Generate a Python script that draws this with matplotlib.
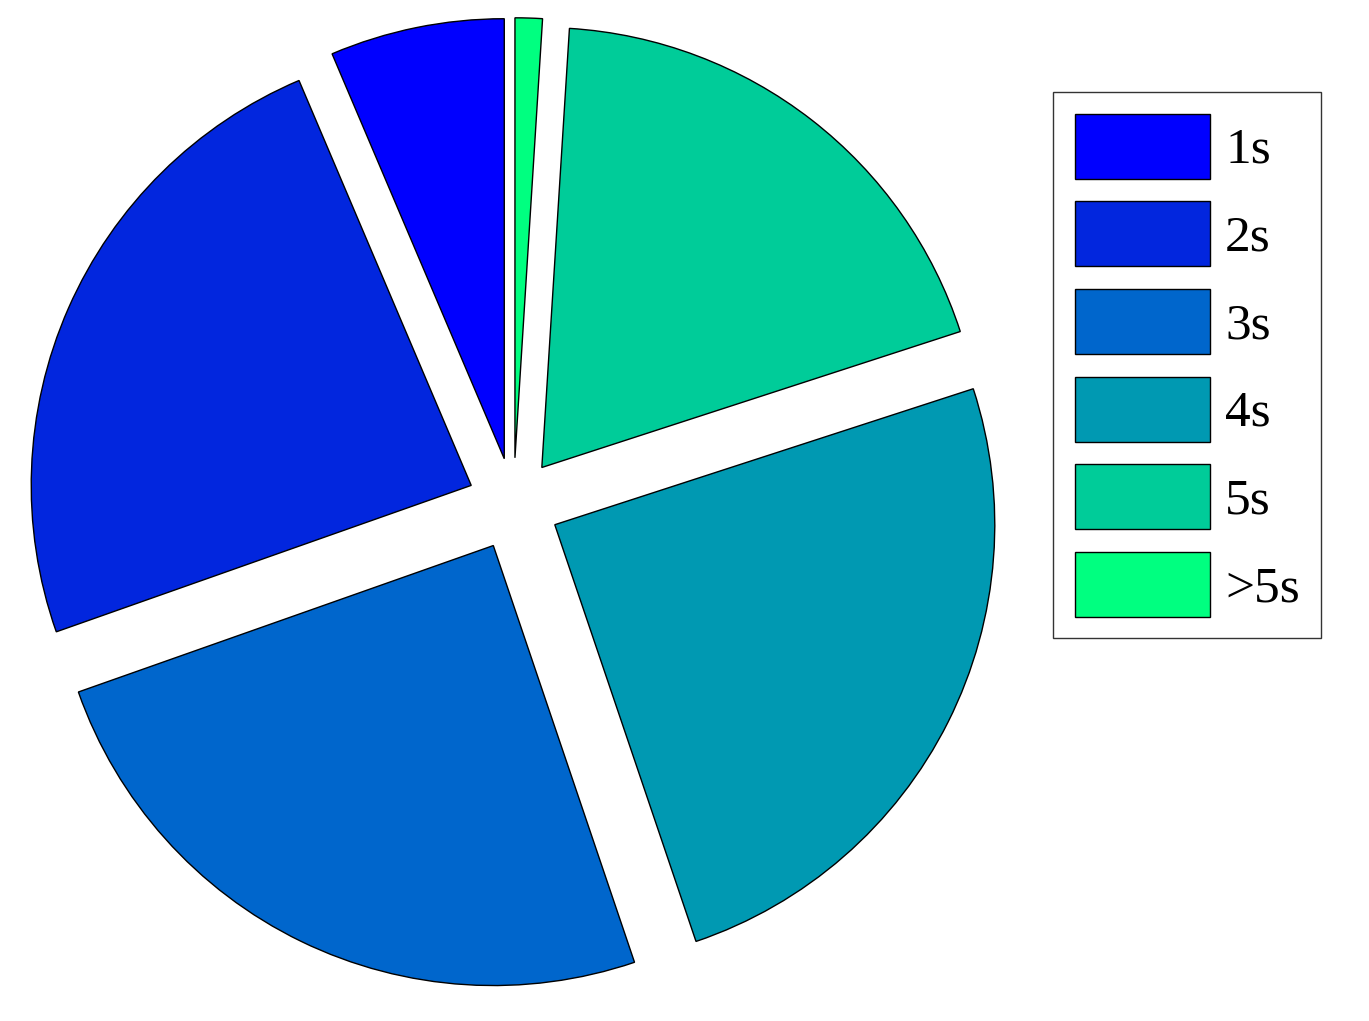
import matplotlib
matplotlib.use("Agg")
import matplotlib.pyplot as plt

# data
labels = ["1s", "2s", "3s", "4s", "5s", ">5s"]
shares = [6.4, 24.0, 24.8, 24.8, 19.0, 1.0]
colors = ["#0000FF", "#0226DE", "#0066CC", "#0099B2", "#00CC99", "#00FF80"]
explode = [0.105] * len(shares)

plt.rcParams["font.family"] = "serif"
plt.rcParams["font.serif"] = ["Liberation Serif", "Times New Roman", "DejaVu Serif"]

W, H = 1369, 1021
fig = plt.figure(figsize=(W / 100, H / 100), dpi=100)
ax = fig.add_axes([0, 0, 1, 1])

wedges, _ = ax.pie(
    shares,
    colors=colors,
    explode=explode,
    startangle=90,
    counterclock=True,
    wedgeprops=dict(edgecolor="black", linewidth=1.0),
)

# pie centre at (513.5, 504) px, radius 440 px
scale = 440.0
cx, cy = 513.5, 504.0
ax.set_aspect("auto")
ax.set_xlim(-cx / scale, (W - cx) / scale)
ax.set_ylim(-(H - cy) / scale, cy / scale)
ax.axis("off")

leg = ax.legend(
    wedges, labels,
    loc="upper left",
    bbox_to_anchor=(1053 / W, 1 - 92 / H),
    bbox_transform=fig.transFigure,
    borderaxespad=0,
    fontsize=37,
    handlelength=2.63,
    handleheight=1.57,
    labelspacing=0.44,
    handletextpad=0.3,
    borderpad=0.42,
    fancybox=False,
    framealpha=1,
)
leg.get_frame().set_edgecolor("#333333")
leg.get_frame().set_linewidth(1.0)

fig.savefig("out.png", dpi=100)
